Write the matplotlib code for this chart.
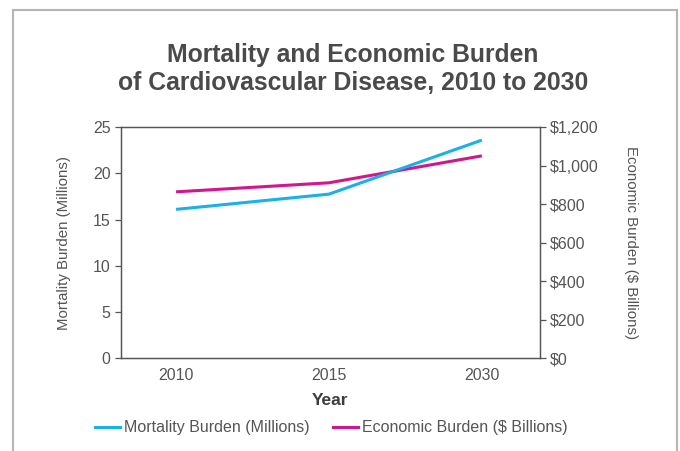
import matplotlib
matplotlib.use("Agg")
import matplotlib.pyplot as plt
from matplotlib.lines import Line2D
from matplotlib.ticker import FuncFormatter

years = ["2010", "2015", "2030"]
mortality = [16.1, 17.75, 23.6]        # millions
economic = [864, 911, 1051]            # $ billions

left_ticks = [0, 5, 10, 15, 20, 25]
right_ticks = [0, 200, 400, 600, 800, 1000, 1200]

blue = "#1ab0ea"
magenta = "#d3168c"
grey = "#555555"

plt.rcParams["font.family"] = ["Liberation Sans", "DejaVu Sans"]

fig = plt.figure(figsize=(6.8, 4.51), dpi=100)
ax = fig.add_axes([0.178, 0.206, 0.616, 0.512])
ax2 = ax.twinx()

x = list(range(len(years)))
ax.plot(x, mortality, color=blue, lw=2.2, solid_capstyle="butt", zorder=3)
ax2.plot(x, economic, color=magenta, lw=2.2, solid_capstyle="butt", zorder=2)
ax.set_zorder(ax2.get_zorder() + 1)
ax.patch.set_visible(False)

ax.set_xlim(-0.36, 2.38)
ax.set_xticks(x)
ax.set_xticklabels(years)
ax.set_ylim(0, 25)
ax.set_yticks(left_ticks)
ax2.set_ylim(0, 1200)
ax2.set_yticks(right_ticks)
ax2.yaxis.set_major_formatter(FuncFormatter(lambda v, p: "${:,.0f}".format(v)))

for a in (ax, ax2):
    for s in a.spines.values():
        s.set_color(grey)
        s.set_linewidth(0.9)
    a.tick_params(colors=grey, labelsize=11.5, width=0.9, length=4)
ax.tick_params(axis="x", length=0, pad=7)

ax.set_ylabel("Mortality Burden (Millions)", color=grey, fontsize=10.8, labelpad=16)
ax2.set_ylabel("Economic Burden ($ Billions)", color=grey, fontsize=10.8,
               rotation=270, labelpad=28)
ax.set_xlabel("Year", color="#3d3d3d", fontsize=12.5, fontweight="bold", labelpad=7)

fig.text(0.519, 0.847, "Mortality and Economic Burden\nof Cardiovascular Disease, 2010 to 2030",
         ha="center", va="center", fontsize=17.8, fontweight="bold", color="#4a4a4a",
         linespacing=1.22)

handles = [Line2D([], [], color=blue, lw=2.2),
           Line2D([], [], color=magenta, lw=2.2)]
fig.legend(handles, ["Mortality Burden (Millions)", "Economic Burden ($ Billions)"],
           loc="center", bbox_to_anchor=(0.487, 0.051), ncol=2, frameon=False,
           fontsize=11.5, labelcolor=grey, handlelength=1.55, handletextpad=0.25,
           columnspacing=1.5)

# light frame around the graphic (open at the bottom)
frame = dict(color="#b5b5b5", lw=1.5, transform=fig.transFigure, clip_on=False)
fig.add_artist(Line2D([0.019, 0.019], [0.0, 0.978], **frame))
fig.add_artist(Line2D([0.019, 0.995], [0.978, 0.978], **frame))
fig.add_artist(Line2D([0.995, 0.995], [0.0, 0.978], **frame))

fig.savefig("out.png", dpi=100)
